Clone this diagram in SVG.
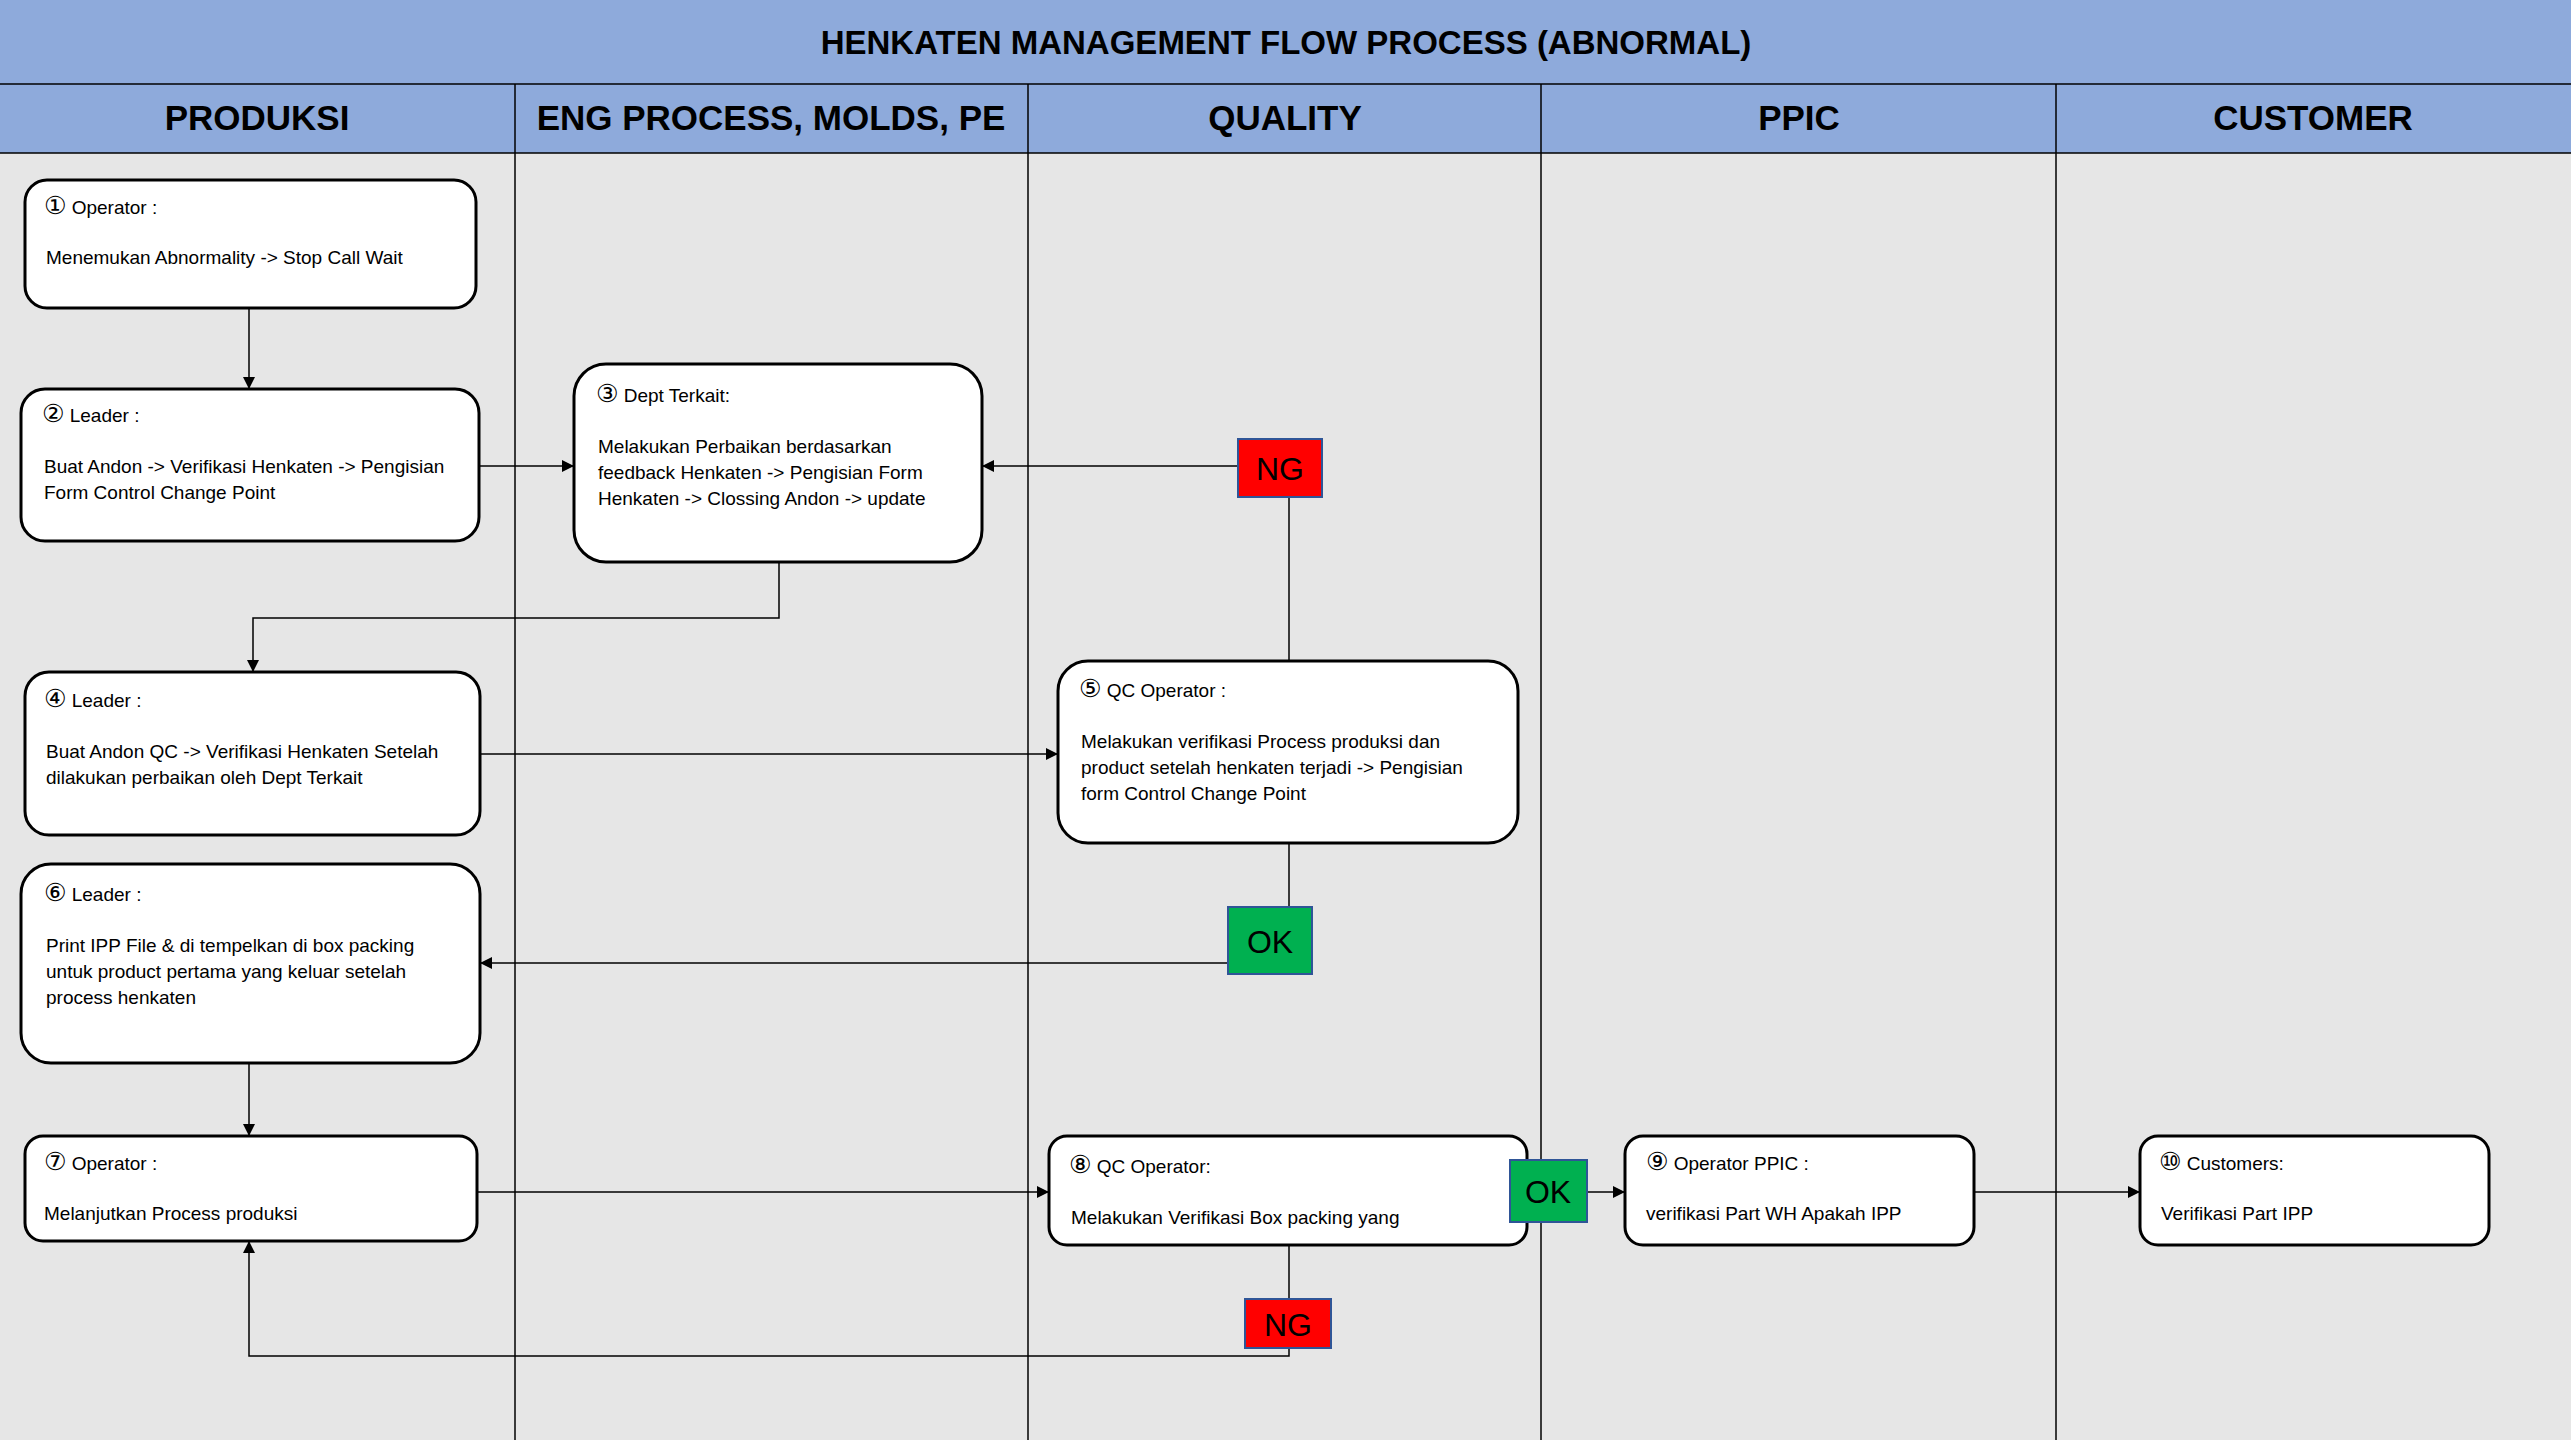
<svg xmlns="http://www.w3.org/2000/svg" width="2571" height="1440" viewBox="0 0 2571 1440">
<style>
text{font-family:"Liberation Sans",Arial,sans-serif;fill:#000}
.t{font-size:19px}
.k{font-family:"DejaVu Sans",sans-serif;font-size:25px}
.h{font-size:35px;font-weight:bold;text-anchor:middle}
.n{fill:#fff;stroke:#000;stroke-width:3}
.c{fill:none;stroke:#000;stroke-width:1.5}
.b{font-size:32px;text-anchor:middle}
</style>
<defs><marker id="a" viewBox="0 0 10 10" refX="10" refY="5" markerWidth="8" markerHeight="8" orient="auto"><path d="M0,0L10,5L0,10z"/></marker></defs>
<rect width="2571" height="1440" fill="#e6e6e6"/>
<rect x="0" y="0" width="2571" height="153" fill="#8eaadb"/>
<g stroke="#000" stroke-width="1.5">
<line x1="0" y1="84" x2="2571" y2="84"/><line x1="0" y1="153" x2="2571" y2="153"/>
<line x1="515" y1="84" x2="515" y2="1440"/><line x1="1028" y1="84" x2="1028" y2="1440"/>
<line x1="1541" y1="84" x2="1541" y2="1440"/><line x1="2056" y1="84" x2="2056" y2="1440"/>
</g>
<text class="h" x="1286" y="54" style="font-size:33px">HENKATEN MANAGEMENT FLOW PROCESS (ABNORMAL)</text>
<text class="h" x="257" y="130">PRODUKSI</text>
<text class="h" x="771" y="130">ENG PROCESS, MOLDS, PE</text>
<text class="h" x="1285" y="130">QUALITY</text>
<text class="h" x="1799" y="130">PPIC</text>
<text class="h" x="2313" y="130">CUSTOMER</text>
<g id="connectors">
<path class="c" d="M249,308V389" marker-end="url(#a)"/>
<path class="c" d="M479,466H574" marker-end="url(#a)"/>
<path class="c" d="M1238,466H982" marker-end="url(#a)"/>
<path class="c" d="M1289,661V497"/>
<path class="c" d="M779,562V618H253V672" marker-end="url(#a)"/>
<path class="c" d="M480,754H1058" marker-end="url(#a)"/>
<path class="c" d="M1289,843V907"/>
<path class="c" d="M1228,963H480" marker-end="url(#a)"/>
<path class="c" d="M249,1063V1136" marker-end="url(#a)"/>
<path class="c" d="M477,1192H1049" marker-end="url(#a)"/>
<path class="c" d="M1587,1192H1625" marker-end="url(#a)"/>
<path class="c" d="M1974,1192H2140" marker-end="url(#a)"/>
<path class="c" d="M1289,1245V1299"/>
<path class="c" d="M1289,1348V1356H249V1241" marker-end="url(#a)"/>
</g>
<g id="n1"><rect class="n" x="25" y="180" width="451" height="128" rx="22"/><text class="t" x="44" y="214"><tspan class="k">①</tspan> Operator :</text><text class="t" x="46" y="264">Menemukan Abnormality -&gt; Stop Call Wait</text></g>
<g id="n2"><rect class="n" x="21" y="389" width="458" height="152" rx="24"/><text class="t" x="42" y="422"><tspan class="k">②</tspan> Leader :</text><text class="t" x="44" y="473">Buat Andon -&gt; Verifikasi Henkaten -&gt; Pengisian</text><text class="t" x="44" y="499">Form Control Change Point</text></g>
<g id="n3"><rect class="n" x="574" y="364" width="408" height="198" rx="32"/><text class="t" x="596" y="402"><tspan class="k">③</tspan> Dept Terkait:</text><text class="t" x="598" y="453">Melakukan Perbaikan berdasarkan</text><text class="t" x="598" y="479">feedback Henkaten -&gt; Pengisian Form</text><text class="t" x="598" y="505">Henkaten -&gt; Clossing Andon -&gt; update</text></g>
<g id="n4"><rect class="n" x="25" y="672" width="455" height="163" rx="24"/><text class="t" x="44" y="707"><tspan class="k">④</tspan> Leader :</text><text class="t" x="46" y="758">Buat Andon QC -&gt; Verifikasi Henkaten Setelah</text><text class="t" x="46" y="784">dilakukan perbaikan oleh Dept Terkait</text></g>
<g id="n5"><rect class="n" x="1058" y="661" width="460" height="182" rx="30"/><text class="t" x="1079" y="697"><tspan class="k">⑤</tspan> QC Operator :</text><text class="t" x="1081" y="748">Melakukan verifikasi Process produksi dan</text><text class="t" x="1081" y="774">product setelah henkaten terjadi -&gt; Pengisian</text><text class="t" x="1081" y="800">form Control Change Point</text></g>
<g id="n6"><rect class="n" x="21" y="864" width="459" height="199" rx="30"/><text class="t" x="44" y="901"><tspan class="k">⑥</tspan> Leader :</text><text class="t" x="46" y="952">Print IPP File &amp; di tempelkan di box packing</text><text class="t" x="46" y="978">untuk product pertama yang keluar setelah</text><text class="t" x="46" y="1004">process henkaten</text></g>
<g id="n7"><rect class="n" x="25" y="1136" width="452" height="105" rx="18"/><text class="t" x="44" y="1170"><tspan class="k">⑦</tspan> Operator :</text><text class="t" x="44" y="1220">Melanjutkan Process produksi</text></g>
<g id="n8"><rect class="n" x="1049" y="1136" width="478" height="109" rx="18"/><text class="t" x="1069" y="1173"><tspan class="k">⑧</tspan> QC Operator:</text><text class="t" x="1071" y="1224">Melakukan Verifikasi Box packing yang</text></g>
<g id="n9"><rect class="n" x="1625" y="1136" width="349" height="109" rx="18"/><text class="t" x="1646" y="1170"><tspan class="k">⑨</tspan> Operator PPIC :</text><text class="t" x="1646" y="1220">verifikasi Part WH Apakah IPP</text></g>
<g id="n10"><rect class="n" x="2140" y="1136" width="349" height="109" rx="18"/><text class="t" x="2159" y="1170"><tspan class="k">⑩</tspan> Customers:</text><text class="t" x="2161" y="1220">Verifikasi Part IPP</text></g>
<g id="ng1"><rect x="1238" y="439" width="84" height="58" fill="#ff0000" stroke="#2f5597" stroke-width="2"/><text class="b" x="1280" y="480">NG</text></g>
<g id="ok1"><rect x="1228" y="907" width="84" height="67" fill="#00b050" stroke="#2f5597" stroke-width="2"/><text class="b" x="1270" y="953">OK</text></g>
<g id="ok2"><rect x="1510" y="1160" width="77" height="62" fill="#00b050" stroke="#2f5597" stroke-width="2"/><text class="b" x="1548" y="1203">OK</text></g>
<g id="ng2"><rect x="1245" y="1299" width="86" height="49" fill="#ff0000" stroke="#2f5597" stroke-width="2"/><text class="b" x="1288" y="1336">NG</text></g>
</svg>
